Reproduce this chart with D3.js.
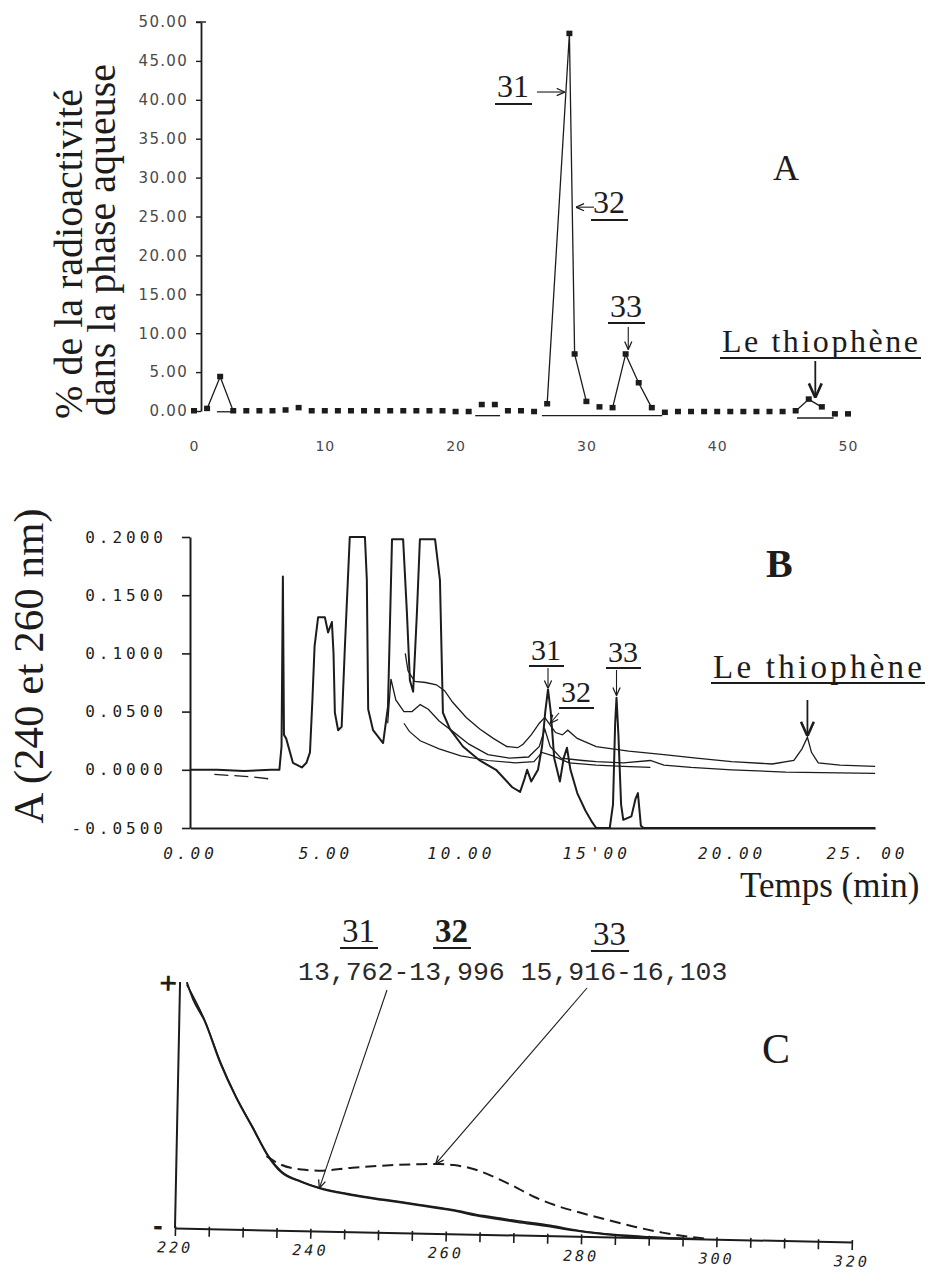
<!DOCTYPE html>
<html>
<head>
<meta charset="utf-8">
<script src="https://cdn.jsdelivr.net/npm/d3@7"></script>
<style>
  body { margin: 0; background: #fff; }
  svg { display: block; }
</style>
</head>
<body>
<div id="chart"></div>
<script>
// ---------- panel A : radioactivity per fraction ----------
var fracX   = [0,1,2,3,4,5,6,7,8,9,10,11,12,13,14,15,16,17,18,19,20,21,22,23,24,25,26,27,28.7,29.1,30,31,32,33,34,35,36,37,38,39,40,41,42,43,44,45,46,47,48,49,50];
var fracPct = [0,0.3,4.4,0,0,0,0,0.1,0.4,0,0,0,0,0,0,0,0,0,0,0,-0.1,-0.1,0.8,0.8,0,0,-0.1,0.9,48.5,7.3,1.2,0.5,0.4,7.3,3.6,0.4,-0.2,-0.1,-0.1,-0.1,-0.1,-0.1,-0.1,-0.1,-0.1,-0.1,0,1.5,0.5,-0.4,-0.4];
var aJoined = [[1,2,3],[27,28.7,29.1,30],[32,33,34,35],[46,47,48]];
var aBaselines = [[1.75,3,-0.1],[21.5,23.4,-0.6],[26.6,35.8,-0.6],[46.1,48.9,-0.9]];
var aYTicks = [0,5,10,15,20,25,30,35,40,45,50];
var aXTicks = [0,10,20,30,40,50];

// ---------- panel B : HPLC chromatograms ----------
var bTraceMain = [[0,0],[1,0],[2,-0.001],[3,0],[3.3,0],[3.38,0.02],[3.43,0.166],[3.47,0.03],[3.55,0.027],[3.8,0.006],[4.13,0.002],[4.3,0.006],[4.43,0.015],[4.52,0.06],[4.6,0.106],[4.73,0.131],[4.98,0.131],[5.1,0.118],[5.24,0.127],[5.3,0.1],[5.35,0.049],[5.47,0.034],[5.6,0.037],[5.72,0.106],[5.9,0.2],[6.46,0.2],[6.53,0.163],[6.58,0.052],[6.76,0.034],[7.13,0.023],[7.31,0.054],[7.46,0.198],[7.87,0.198],[8.01,0.135],[8.12,0.077],[8.24,0.067],[8.38,0.135],[8.49,0.198],[9.05,0.198],[9.23,0.163],[9.34,0.049],[9.6,0.035],[10.08,0.02],[10.7,0.008],[11.3,0],[11.9,-0.015],[12.19,-0.019],[12.35,-0.008],[12.45,0],[12.6,-0.01],[12.85,0],[13.0,0.02],[13.12,0.05],[13.22,0.069],[13.32,0.05],[13.45,0.01],[13.66,-0.01],[13.8,0.01],[13.92,0.019],[14.05,0],[14.3,-0.02],[14.6,-0.035],[14.85,-0.045],[15.0,-0.05],[15.5,-0.05],[15.62,-0.03],[15.7,0.04],[15.75,0.062],[15.82,0.03],[15.92,-0.03],[16.0,-0.043],[16.3,-0.04],[16.45,-0.025],[16.54,-0.02],[16.65,-0.048],[16.75,-0.05],[25.3,-0.05]];
var bTraceTop = [[7.95,0.1],[8.05,0.085],[8.3,0.076],[8.7,0.075],[9.1,0.073],[9.4,0.068],[9.7,0.058],[10.2,0.045],[10.7,0.035],[11.2,0.027],[11.7,0.02],[12.1,0.019],[12.3,0.022],[12.6,0.03],[12.9,0.04],[13.1,0.045],[13.25,0.04],[13.5,0.032],[13.75,0.03],[13.95,0.034],[14.3,0.027],[15.0,0.02],[16.2,0.016],[17.5,0.013],[18.7,0.01],[20,0.007],[21.5,0.005],[22.3,0.008],[22.6,0.018],[22.8,0.028],[22.95,0.015],[23.2,0.006],[24,0.004],[25.3,0.003]];
var bTraceMid = [[7.3,0.04],[7.42,0.078],[7.6,0.06],[7.9,0.05],[8.2,0.05],[8.5,0.056],[8.8,0.052],[9.2,0.042],[9.7,0.033],[10.3,0.022],[11.0,0.013],[11.8,0.01],[12.5,0.011],[12.9,0.02],[13.1,0.035],[13.3,0.02],[13.7,0.01],[14.5,0.008],[15.0,0.007],[16.0,0.006],[17,0.008],[17.5,0.004],[18.5,0.002],[20,0],[22,-0.002],[25.3,-0.003]];
var bTraceLow = [[7.9,0.04],[8.1,0.033],[8.5,0.025],[9.2,0.018],[10.0,0.012],[11.0,0.008],[12.0,0.006],[12.7,0.007],[13.0,0.015],[13.4,0.012],[14.0,0.006],[15.0,0.004],[16.0,0.003],[17.0,0.002]];
var bBaseDash = [[0.9,-0.004],[1.6,-0.005],[2.3,-0.006],[3.0,-0.008]];
var bYTicks = [-0.05,0,0.05,0.1,0.15,0.2];
var bXTicks = [0,5,10,15,20,25];
var bXLabels = ["0.00","5.00","10.00","15'00","20.00","25. 00"];

// ---------- panel C : UV spectra ----------
var cNm31  = [221,222,223.7,226.2,228.6,231.1,233.6,235.5,238.5,241,245.9,250.7,255.7,260.6,265.5,270.5,275.4,278.8,282,286,290,294,297];
var cAbs31 = [1.0,0.93,0.847,0.674,0.537,0.417,0.297,0.236,0.198,0.175,0.149,0.131,0.114,0.096,0.071,0.053,0.037,0.024,0.015,0.006,0.002,0,0];
var cNm32  = [221,223.7,226.2,228.6,231.1,233.6,235.5,238.5,241,245.9,250.7,255.7,260.6,265.5,270.5,275.4,280,285,290,295];
var cAbs32 = [0.99,0.85,0.678,0.54,0.42,0.3,0.24,0.2,0.178,0.152,0.134,0.117,0.099,0.076,0.058,0.042,0.022,0.01,0.004,0];
var cNm33  = [233.3,235,238.5,241,246,251,256,259,261,264,266,268,270.5,273,276,280,284,288,292,296,299];
var cAbs33 = [0.3,0.272,0.248,0.245,0.26,0.272,0.28,0.282,0.279,0.264,0.245,0.222,0.19,0.156,0.125,0.095,0.068,0.043,0.022,0.007,0];
var cTicks = [220,225,230,235,240,245,250,255,260,265,270,275,280,285,290,295,300,305,310,315,320];

var serif = "'Liberation Serif', 'Times New Roman', serif";
var mono = "'DejaVu Sans Mono', monospace";
var sans = "'DejaVu Sans', sans-serif";
var ink = "#1c1c1c";

var svg = d3.select("#chart").append("svg")
  .attr("width", 937)
  .attr("height", 1274);

var defs = svg.append("defs");
defs.append("marker")
  .attr("id", "arr")
  .attr("viewBox", "0 0 10 10")
  .attr("refX", 10).attr("refY", 5)
  .attr("markerWidth", 9).attr("markerHeight", 9)
  .attr("markerUnits", "userSpaceOnUse")
  .attr("orient", "auto")
  .append("path")
  .attr("d", "M1,1 L10,5 L1,9")
  .attr("fill", "none").attr("stroke", ink).attr("stroke-width", 1.4);
defs.append("marker")
  .attr("id", "arrBig")
  .attr("viewBox", "0 0 10 10")
  .attr("refX", 10).attr("refY", 5)
  .attr("markerWidth", 16).attr("markerHeight", 16)
  .attr("markerUnits", "userSpaceOnUse")
  .attr("orient", "auto")
  .append("path")
  .attr("d", "M1,1 L10,5 L1,9")
  .attr("fill", "none").attr("stroke", ink).attr("stroke-width", 1.6);

function label(txt, x, y, size, opt) {
  opt = opt || {};
  var t = svg.append("text")
    .attr("x", x).attr("y", y)
    .attr("font-family", serif)
    .attr("font-size", size)
    .attr("fill", ink)
    .attr("font-weight", opt.bold ? "bold" : "normal")
    .text(txt);
  if (opt.len) t.attr("textLength", opt.len).attr("lengthAdjust", "spacing");
  if (opt.under) {
    var b = t.node().getBBox();
    svg.append("line")
      .attr("x1", b.x - 2).attr("x2", b.x + b.width + 3)
      .attr("y1", y + opt.under).attr("y2", y + opt.under)
      .attr("stroke", ink).attr("stroke-width", 2.2);
  }
  return t;
}

function arrow(x1, y1, x2, y2, big) {
  svg.append("line")
    .attr("x1", x1).attr("y1", y1).attr("x2", x2).attr("y2", y2)
    .attr("stroke", ink).attr("stroke-width", big ? 1.8 : 1.1)
    .attr("marker-end", big ? "url(#arrBig)" : "url(#arr)");
}

// ================= PANEL A =================
var ax = d3.scaleLinear().domain([0, 50]).range([194, 848]);
var ay = d3.scaleLinear().domain([0, 50]).range([411, 22]);

var gAy = svg.append("g")
  .attr("transform", "translate(201,0)")
  .call(d3.axisLeft(ay).tickValues(aYTicks).tickFormat(d3.format(".2f")).tickSize(5).tickSizeOuter(0).tickPadding(8));
gAy.select(".domain").attr("stroke", ink).attr("stroke-width", 1.8);
gAy.selectAll(".tick line").attr("stroke", ink).attr("stroke-width", 1.4);
gAy.selectAll("text").attr("font-family", sans).attr("font-size", 15).attr("fill", "#4a4a4a").attr("letter-spacing", 1.3);
gAy.append("line").attr("x1", -5).attr("x2", 5).attr("y1", ay(50)).attr("y2", ay(50)).attr("stroke", ink).attr("stroke-width", 1.4);

var gAx = svg.append("g")
  .attr("transform", "translate(0,438)")
  .call(d3.axisBottom(ax).tickValues(aXTicks).tickSize(0).tickPadding(3));
gAx.select(".domain").remove();
gAx.selectAll("text").attr("font-family", sans).attr("font-size", 14).attr("fill", "#4a4a4a").attr("letter-spacing", 1);

function pctAt(x) { return fracPct[fracX.indexOf(x)]; }
var lineA = d3.line().x(function(d) { return ax(d); }).y(function(d) { return ay(pctAt(d)); });
svg.append("g").selectAll("path")
  .data(aJoined).enter().append("path")
  .attr("d", lineA)
  .attr("fill", "none").attr("stroke", ink).attr("stroke-width", 1.3);

svg.append("g").selectAll("line")
  .data(aBaselines).enter().append("line")
  .attr("x1", function(d) { return ax(d[0]); })
  .attr("x2", function(d) { return ax(d[1]); })
  .attr("y1", function(d) { return ay(d[2]); })
  .attr("y2", function(d) { return ay(d[2]); })
  .attr("stroke", ink).attr("stroke-width", 1.3);

svg.append("g").selectAll("rect")
  .data(fracX).enter().append("rect")
  .attr("x", function(d) { return ax(d) - 3; })
  .attr("y", function(d, i) { return ay(fracPct[i]) - 3; })
  .attr("width", 6).attr("height", 5.5)
  .attr("fill", ink);

// y title A
svg.append("text")
  .attr("transform", "translate(82,254) rotate(-90)")
  .attr("text-anchor", "middle")
  .attr("font-family", serif).attr("font-size", 40).attr("fill", ink)
  .text("% de la radioactivité");
svg.append("text")
  .attr("transform", "translate(115,240) rotate(-90)")
  .attr("text-anchor", "middle")
  .attr("font-family", serif).attr("font-size", 40).attr("fill", ink)
  .text("dans la phase aqueuse");

label("A", 773, 180, 36);
label("31", 497, 97, 32, {under: 7});
arrow(537, ay(41), ax(28.35), ay(41));
label("32", 593, 213, 32, {under: 7});
arrow(594, ay(26.2), ax(29.2), ay(26.2));
label("33", 610, 317, 32, {under: 6});
arrow(ax(33.2), 327, ax(33.2), ay(7.9));
label("Le thiophène", 722, 352, 32, {len: 196, under: 6});
arrow(ax(47.5), 361, ax(47.5), ay(1.7), true);

// ================= PANEL B =================
var bx = d3.scaleLinear().domain([0, 25]).range([190, 867]);
var by = d3.scaleLinear().domain([-0.05, 0.2]).range([828, 537]);
var bxAxis = bx.copy().domain([0, 25.3]).range([bx(0), bx(25.3)]);

var gBy = svg.append("g")
  .attr("transform", "translate(190,0)")
  .call(d3.axisLeft(by).tickValues(bYTicks)
    .tickFormat(function(d) { return (d < 0 ? "-" : "") + Math.abs(d).toFixed(4); })
    .tickSize(8).tickSizeOuter(0).tickPadding(15));
gBy.select(".domain").attr("stroke", ink).attr("stroke-width", 2);
gBy.selectAll(".tick line").attr("stroke", ink).attr("stroke-width", 1.6);
gBy.selectAll("text").attr("font-family", mono).attr("font-size", 16).attr("fill", ink).attr("letter-spacing", 4);

var gBx = svg.append("g")
  .attr("transform", "translate(0,828)")
  .call(d3.axisBottom(bxAxis).tickValues(bXTicks)
    .tickFormat(function(d, i) { return bXLabels[i]; })
    .tickSize(0).tickPadding(20));
gBx.select(".domain").attr("stroke", ink).attr("stroke-width", 2);
gBx.selectAll("text").attr("font-family", mono).attr("font-size", 16).attr("font-style", "italic").attr("fill", ink).attr("letter-spacing", 4);

var lineB = d3.line().x(function(d) { return bx(d[0]); }).y(function(d) { return by(d[1]); });
svg.append("path").attr("d", lineB(bBaseDash))
  .attr("fill", "none").attr("stroke", ink).attr("stroke-width", 1.3).attr("stroke-dasharray", "14,6");
svg.append("path").attr("d", lineB(bTraceLow))
  .attr("fill", "none").attr("stroke", ink).attr("stroke-width", 1.2);
svg.append("path").attr("d", lineB(bTraceMid))
  .attr("fill", "none").attr("stroke", ink).attr("stroke-width", 1.3);
svg.append("path").attr("d", lineB(bTraceTop))
  .attr("fill", "none").attr("stroke", ink).attr("stroke-width", 1.3);
svg.append("path").attr("d", lineB(bTraceMain))
  .attr("fill", "none").attr("stroke", ink).attr("stroke-width", 2).attr("stroke-linejoin", "round");

svg.append("text")
  .attr("transform", "translate(43,666) rotate(-90)")
  .attr("text-anchor", "middle")
  .attr("font-family", serif).attr("font-size", 43).attr("fill", ink)
  .text("A (240 et 260 nm)");
label("B", 766, 577, 40, {bold: true});
label("Temps (min)", 740, 897, 35);

label("31", 531, 660, 30, {under: 6});
arrow(bx(13.22), 668, bx(13.22), by(0.069) - 1);
label("32", 561, 702, 30, {under: 6});
arrow(559, 713, bx(13.3), by(0.04));
label("33", 608, 662, 30, {under: 6});
arrow(bx(15.75), 670, bx(15.75), by(0.062) - 2);
label("Le thiophène", 713, 678, 33, {len: 209, under: 5});
arrow(bx(22.8), 700, bx(22.8), by(0.028) - 1, true);

// ================= PANEL C =================
var tilt = 1.18, ox = 175, oy = 1228;
var cx = d3.scaleLinear().domain([220, 320]).range([175, 852]);
var cy = d3.scaleLinear().domain([0, 1]).range([1228, 982]);
function toPage(px, py) {
  var a = tilt * Math.PI / 180, dx = px - ox, dy = py - oy;
  return [ox + dx * Math.cos(a) - dy * Math.sin(a), oy + dx * Math.sin(a) + dy * Math.cos(a)];
}

var gC = svg.append("g").attr("transform", "rotate(" + tilt + "," + ox + "," + oy + ")");
var gCx = gC.append("g")
  .attr("transform", "translate(0," + cy(0) + ")")
  .call(d3.axisBottom(cx).tickValues(cTicks)
    .tickFormat(function(d) { return d % 20 === 0 ? d : ""; })
    .tickSize(8).tickSizeOuter(0).tickPadding(6));
gCx.select(".domain").attr("stroke", ink).attr("stroke-width", 2);
gCx.selectAll(".tick line").attr("stroke", ink).attr("stroke-width", 1.6).attr("y1", -2);
gCx.selectAll("text").attr("font-family", mono).attr("font-size", 15).attr("font-style", "italic").attr("fill", ink).attr("letter-spacing", 3);

gC.append("line")
  .attr("x1", cx(220)).attr("x2", cx(220))
  .attr("y1", cy(0)).attr("y2", cy(1))
  .attr("stroke", ink).attr("stroke-width", 2);
gC.append("text").attr("x", cx(220) - 22).attr("y", cy(1) + 9)
  .attr("font-family", sans).attr("font-weight", "bold").attr("font-size", 24).attr("fill", ink).text("+");
gC.append("text").attr("x", cx(220) - 22).attr("y", cy(0) + 7)
  .attr("font-family", sans).attr("font-weight", "bold").attr("font-size", 24).attr("fill", ink).text("-");

var lineC = d3.line().curve(d3.curveMonotoneX)
  .x(function(d) { return cx(d[0]); }).y(function(d) { return cy(d[1]); });
gC.append("path").attr("d", lineC(d3.zip(cNm32, cAbs32)))
  .attr("fill", "none").attr("stroke", ink).attr("stroke-width", 1.6);
gC.append("path").attr("d", lineC(d3.zip(cNm31, cAbs31)))
  .attr("fill", "none").attr("stroke", ink).attr("stroke-width", 2);
gC.append("path").attr("d", lineC(d3.zip(cNm33, cAbs33)))
  .attr("fill", "none").attr("stroke", ink).attr("stroke-width", 2).attr("stroke-dasharray", "11,6");

label("31", 342, 942, 33, {under: 6});
label("32", 435, 942, 33, {bold: true, under: 6});
label("33", 593, 945, 33, {under: 6});
svg.append("text").attr("x", 298).attr("y", 980)
  .attr("font-family", "'Liberation Mono', monospace").attr("font-size", 26.5).attr("fill", "#2a2a2a")
  .text("13,762-13,996 15,916-16,103");
label("C", 762, 1063, 42);

var p31 = toPage(cx(241.2), cy(0.174));
var p33 = toPage(cx(258.3), cy(0.282));
arrow(387, 990, p31[0], p31[1]);
arrow(587, 988, p33[0], p33[1]);
</script>
</body>
</html>
